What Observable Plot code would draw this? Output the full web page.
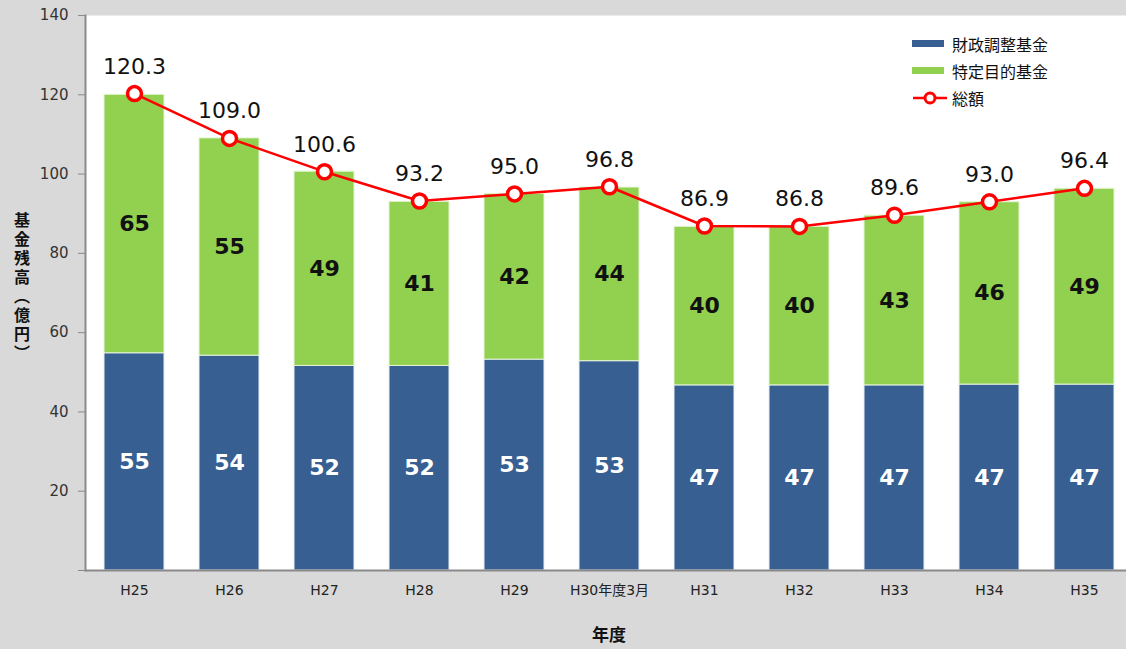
<!DOCTYPE html>
<html>
<head>
<meta charset="utf-8">
<script src="https://cdn.jsdelivr.net/npm/d3@7"></script>
<script src="https://cdn.jsdelivr.net/npm/@observablehq/plot@0.6"></script>
<style>
  html, body { margin: 0; padding: 0; background: #d9d9d9; }
  #wrap { position: relative; width: 1126px; height: 649px; overflow: hidden; }
  .legend { position: absolute; left: 912px; top: 30px; font-family: "Noto Sans CJK JP", sans-serif; font-size: 16px; color: #111; }
  .legend .row { display: flex; align-items: center; height: 27px; }
  .legend .sw { width: 32px; height: 7px; margin-right: 8px; }
  .ylab { position: absolute; left: 10px; top: 212px; writing-mode: vertical-rl; font-family: "Noto Sans CJK JP", sans-serif; font-weight: bold; font-size: 16px; letter-spacing: 3px; color: #111; }
  .xlab { position: absolute; left: 0; width: 1218px; top: 622px; text-align: center; font-family: "Noto Sans CJK JP", sans-serif; font-weight: bold; font-size: 17px; line-height: 24px; color: #111; }
</style>
</head>
<body>
<div id="wrap"></div>
<script>
// ---- data ----
const categories = ["H25","H26","H27","H28","H29","H30年度3月","H31","H32","H33","H34","H35"];
const fiscalAdjustmentFund = [54.8,54.2,51.6,51.6,53.2,52.8,46.7,46.7,46.7,46.9,46.9];
const specificPurposeFund  = [65.2,54.8,49.0,41.4,41.8,43.8,40.0,40.0,42.8,46.0,49.4];
const totals = [120.3,109.0,100.6,93.2,95.0,96.8,86.9,86.8,89.6,93.0,96.4];
const yTicks = [0,20,40,60,80,100,120,140];
const seriesNames = ["財政調整基金","特定目的基金","総額"];
const colors = { blue: "#375f92", green: "#92d050", red: "#ff0000" };

const blueRows = categories.map((c,i)=>({cat:c, y1:0, y2:fiscalAdjustmentFund[i], v:fiscalAdjustmentFund[i]}));
const greenRows = categories.map((c,i)=>({cat:c, y1:fiscalAdjustmentFund[i], y2:fiscalAdjustmentFund[i]+specificPurposeFund[i], v:specificPurposeFund[i]}));
const totalRows = categories.map((c,i)=>({cat:c, total:totals[i]}));

const numFont = "'DejaVu Sans', 'Noto Sans CJK JP', sans-serif";

const chart = Plot.plot({
  width: 1126, height: 649,
  marginLeft: 85, marginRight: 0, marginTop: 15, marginBottom: 79,
  style: { background: "transparent", fontFamily: numFont, overflow: "visible" },
  x: { domain: categories, range: [85, 1133], paddingInner: 0.37, paddingOuter: 0.19, axis: null },
  y: { domain: [0, 140], axis: null },
  marks: [
    Plot.frame({ fill: "white", stroke: null }),
    Plot.barY(blueRows, { x: "cat", y1: "y1", y2: "y2", fill: colors.blue, stroke: "#e8eef6", strokeWidth: 1, inset: 0 }),
    Plot.barY(greenRows, { x: "cat", y1: "y1", y2: "y2", fill: colors.green, stroke: "#e6f5d6", strokeWidth: 1, inset: 0 }),
    Plot.ruleY([0], { stroke: "#8a8a8a", strokeWidth: 2 }),
    Plot.frame({ anchor: "left", stroke: "#8a8a8a", strokeWidth: 2 }),
    Plot.axisY({ ticks: yTicks, tickSize: 7, tickPadding: 10, tickFormat: d => d === 0 ? "" : d, fontSize: 15, stroke: "#8a8a8a", color: "#333", anchor: "left" }),
    Plot.axisX({ tickSize: 0, tickPadding: 15, fontSize: 14, color: "#222", fontFamily: numFont, label: null }),
    Plot.text(blueRows, { x: "cat", y: d => (d.y1 + d.y2) / 2, text: d => Math.round(d.v), fill: "white", fontSize: 22, fontWeight: "bold" }),
    Plot.text(greenRows, { x: "cat", y: d => (d.y1 + d.y2) / 2, text: d => Math.round(d.v), fill: "#111", fontSize: 22, fontWeight: "bold" }),
    Plot.lineY(totalRows, { x: "cat", y: "total", stroke: colors.red, strokeWidth: 2.5 }),
    Plot.dot(totalRows, { x: "cat", y: "total", r: 7, fill: "white", stroke: colors.red, strokeWidth: 3.5 }),
    Plot.text(totalRows, { x: "cat", y: "total", text: d => d.total.toFixed(1), dy: -27, fill: "#111", fontSize: 22 })
  ]
});

const wrap = document.getElementById("wrap");
wrap.appendChild(chart);

// legend
const legend = document.createElement("div");
legend.className = "legend";
legend.innerHTML = `
  <div class="row"><div class="sw" style="background:${colors.blue}"></div><span>${seriesNames[0]}</span></div>
  <div class="row"><div class="sw" style="background:${colors.green}"></div><span>${seriesNames[1]}</span></div>
  <div class="row"><svg width="36" height="16" style="margin-right:4px"><line x1="1" y1="8" x2="35" y2="8" stroke="${colors.red}" stroke-width="2.5"/><circle cx="18" cy="8" r="5" fill="white" stroke="${colors.red}" stroke-width="3"/></svg><span>${seriesNames[2]}</span></div>`;
wrap.appendChild(legend);

const ylab = document.createElement("div");
ylab.className = "ylab";
ylab.textContent = "基金残高（億円）";
wrap.appendChild(ylab);

const xlab = document.createElement("div");
xlab.className = "xlab";
xlab.textContent = "年度";
wrap.appendChild(xlab);
</script>
</body>
</html>
